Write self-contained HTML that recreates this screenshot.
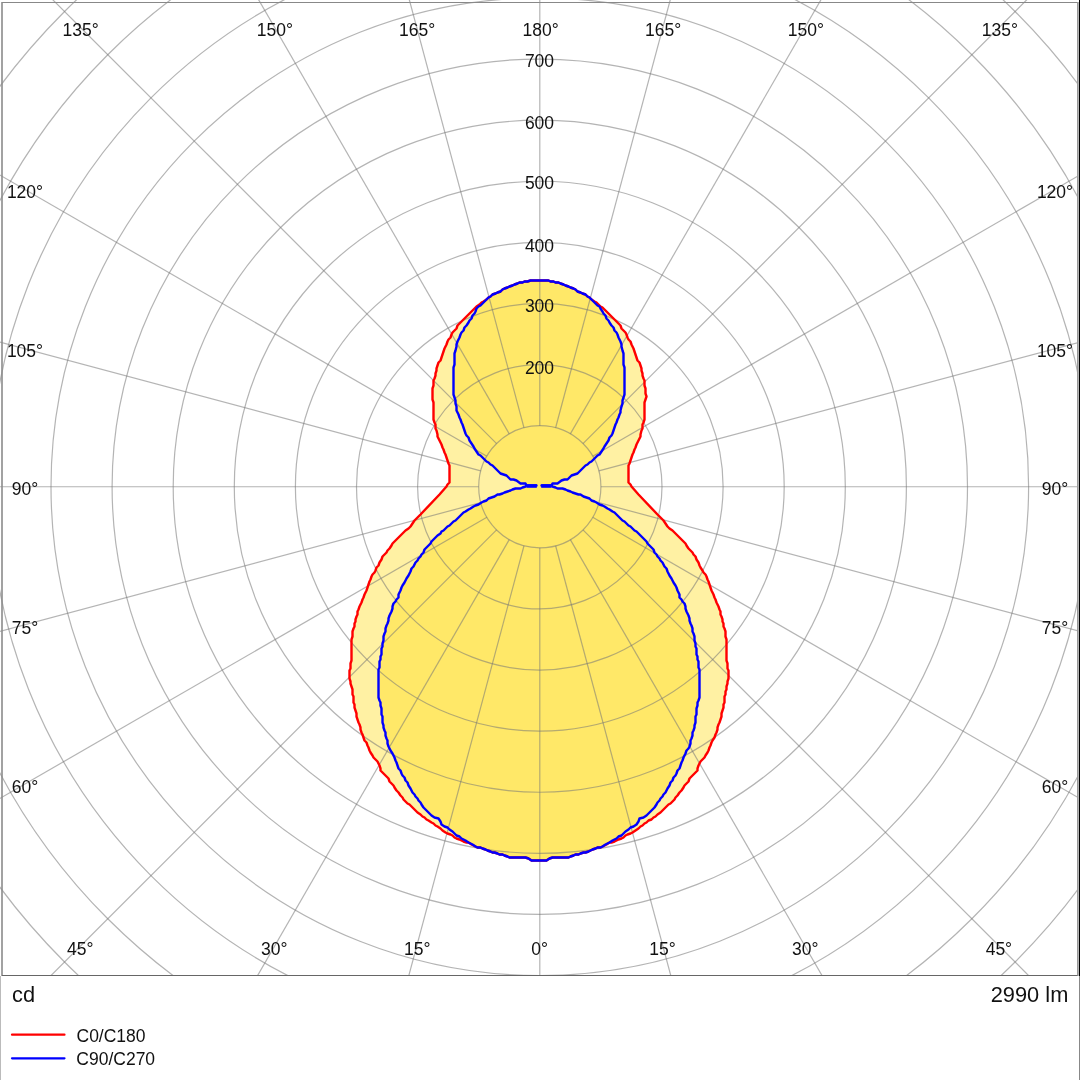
<!DOCTYPE html>
<html><head><meta charset="utf-8">
<style>
html,body{margin:0;padding:0;background:#fff;}
body{width:1080px;height:1080px;overflow:hidden;position:relative;}
svg{position:absolute;left:0;top:0;}
.tl{will-change:transform;}
text{font-family:"Liberation Sans",sans-serif;}
</style></head><body>
<svg width="1080" height="1080" viewBox="0 0 1080 1080">
<defs><clipPath id="pc"><rect x="0" y="0" width="1080" height="975.5"/></clipPath></defs>
<rect x="0" y="0" width="1080" height="1080" fill="#fff"/>
<g clip-path="url(#pc)">
<path d="M538.5,280.5 L535.5,280.5 L532.5,280.5 L530.5,280.5 L527.5,281.5 L524.5,281.5 L522.5,282.5 L519.5,282.5 L517.5,283.5 L514.5,284.5 L512.5,285.5 L509.5,286.5 L507.5,287.5 L504.5,288.5 L502.5,289.5 L500.5,291.5 L497.5,292.5 L495.5,293.5 L492.5,294.5 L490.5,296.5 L488.5,297.5 L486.5,299.5 L483.5,301.5 L481.5,302.5 L479.5,304.5 L476.5,306.5 L475.5,307.5 L473.5,309.5 L471.5,311.5 L469.5,313.5 L467.5,315.5 L465.5,317.5 L463.5,319.5 L461.5,321.5 L459.5,323.5 L457.5,325.5 L456.5,328.5 L454.5,330.5 L452.5,332.5 L451.5,334.5 L450.5,337.5 L448.5,339.5 L447.5,341.5 L446.5,344.5 L445.5,346.5 L444.5,348.5 L443.5,351.5 L442.5,354.5 L441.5,357.5 L440.5,360.5 L438.5,362.5 L437.5,365.5 L436.5,368.5 L436.5,370.5 L435.5,373.5 L435.5,375.5 L434.5,378.5 L433.5,380.5 L433.5,383.5 L433.5,385.5 L432.5,388.5 L432.5,391.5 L432.5,393.5 L432.5,396.5 L432.5,399.5 L433.5,402.5 L433.5,405.5 L433.5,408.5 L433.5,411.5 L433.5,413.5 L433.5,416.5 L433.5,419.5 L434.5,422.5 L435.5,424.5 L435.5,428.5 L436.5,430.5 L437.5,434.5 L437.5,436.5 L439.5,440.5 L440.5,442.5 L441.5,444.5 L442.5,447.5 L443.5,449.5 L444.5,452.5 L445.5,454.5 L446.5,457.5 L447.5,460.5 L448.5,463.5 L449.5,465.5 L449.5,468.5 L449.5,471.5 L449.5,474.5 L449.5,476.5 L449.5,479.5 L449.5,482.5 L447.5,484.5 L446.5,486.5 L439.5,494.5 L420.5,514.5 L418.5,516.5 L416.5,518.5 L414.5,520.5 L412.5,523.5 L410.5,526.5 L408.5,528.5 L405.5,530.5 L403.5,532.5 L401.5,534.5 L399.5,536.5 L396.5,539.5 L394.5,541.5 L392.5,543.5 L391.5,545.5 L389.5,548.5 L387.5,550.5 L386.5,552.5 L384.5,554.5 L382.5,556.5 L381.5,559.5 L379.5,562.5 L378.5,565.5 L376.5,567.5 L375.5,570.5 L374.5,572.5 L372.5,574.5 L371.5,576.5 L370.5,579.5 L369.5,581.5 L368.5,584.5 L367.5,587.5 L366.5,590.5 L365.5,592.5 L364.5,594.5 L363.5,597.5 L362.5,599.5 L361.5,602.5 L360.5,604.5 L359.5,606.5 L358.5,609.5 L357.5,611.5 L357.5,614.5 L356.5,616.5 L355.5,619.5 L355.5,621.5 L354.5,623.5 L354.5,626.5 L353.5,628.5 L352.5,631.5 L352.5,634.5 L352.5,636.5 L351.5,639.5 L351.5,641.5 L351.5,644.5 L351.5,647.5 L351.5,649.5 L351.5,652.5 L351.5,655.5 L351.5,657.5 L351.5,660.5 L350.5,663.5 L350.5,665.5 L350.5,668.5 L349.5,670.5 L349.5,673.5 L349.5,676.5 L349.5,678.5 L350.5,681.5 L350.5,683.5 L351.5,686.5 L352.5,689.5 L352.5,691.5 L352.5,694.5 L353.5,696.5 L353.5,699.5 L353.5,702.5 L354.5,704.5 L354.5,707.5 L355.5,710.5 L356.5,713.5 L356.5,716.5 L357.5,719.5 L358.5,722.5 L359.5,724.5 L360.5,727.5 L360.5,729.5 L361.5,732.5 L362.5,734.5 L363.5,737.5 L364.5,740.5 L366.5,742.5 L367.5,745.5 L368.5,747.5 L369.5,750.5 L370.5,752.5 L372.5,755.5 L373.5,757.5 L375.5,759.5 L377.5,761.5 L378.5,763.5 L379.5,765.5 L380.5,768.5 L380.5,770.5 L382.5,772.5 L384.5,774.5 L386.5,776.5 L388.5,778.5 L389.5,781.5 L391.5,783.5 L393.5,785.5 L394.5,787.5 L396.5,790.5 L398.5,792.5 L400.5,795.5 L402.5,797.5 L403.5,799.5 L405.5,801.5 L407.5,803.5 L409.5,804.5 L411.5,806.5 L413.5,808.5 L415.5,810.5 L417.5,812.5 L420.5,814.5 L422.5,816.5 L424.5,817.5 L426.5,819.5 L428.5,820.5 L431.5,822.5 L433.5,823.5 L435.5,825.5 L437.5,826.5 L440.5,828.5 L442.5,830.5 L445.5,832.5 L447.5,833.5 L450.5,834.5 L452.5,835.5 L454.5,837.5 L456.5,838.5 L459.5,839.5 L461.5,840.5 L463.5,841.5 L466.5,842.5 L468.5,842.5 L471.5,844.5 L475.5,846.5 L477.5,847.5 L480.5,847.5 L482.5,848.5 L485.5,849.5 L487.5,850.5 L490.5,851.5 L492.5,852.5 L494.5,852.5 L497.5,853.5 L499.5,854.5 L502.5,854.5 L504.5,855.5 L507.5,856.5 L509.5,857.5 L511.5,857.5 L514.5,857.5 L517.5,857.5 L519.5,857.5 L522.5,857.5 L525.5,857.5 L528.5,858.5 L531.5,860.5 L535.5,860.5 L538.5,860.5 L542.5,860.5 L546.5,860.5 L549.5,858.5 L552.5,857.5 L555.5,857.5 L558.5,857.5 L560.5,857.5 L563.5,857.5 L566.5,857.5 L568.5,857.5 L570.5,856.5 L573.5,855.5 L575.5,854.5 L578.5,854.5 L580.5,853.5 L583.5,852.5 L585.5,852.5 L588.5,851.5 L590.5,850.5 L592.5,849.5 L595.5,848.5 L597.5,847.5 L600.5,847.5 L602.5,846.5 L606.5,844.5 L609.5,842.5 L611.5,842.5 L614.5,841.5 L616.5,840.5 L618.5,839.5 L621.5,838.5 L623.5,837.5 L625.5,835.5 L627.5,834.5 L630.5,833.5 L632.5,832.5 L635.5,830.5 L638.5,828.5 L640.5,826.5 L642.5,825.5 L644.5,823.5 L646.5,822.5 L648.5,820.5 L651.5,819.5 L653.5,817.5 L655.5,816.5 L657.5,814.5 L660.5,812.5 L662.5,810.5 L664.5,808.5 L666.5,806.5 L668.5,804.5 L670.5,803.5 L672.5,801.5 L674.5,799.5 L675.5,797.5 L677.5,795.5 L679.5,792.5 L681.5,790.5 L683.5,787.5 L684.5,785.5 L686.5,783.5 L688.5,781.5 L689.5,778.5 L691.5,776.5 L693.5,774.5 L695.5,772.5 L697.5,770.5 L697.5,768.5 L698.5,765.5 L699.5,763.5 L700.5,761.5 L702.5,759.5 L704.5,757.5 L705.5,755.5 L707.5,752.5 L708.5,750.5 L709.5,747.5 L710.5,745.5 L711.5,742.5 L712.5,740.5 L714.5,737.5 L715.5,734.5 L716.5,732.5 L717.5,729.5 L717.5,727.5 L718.5,724.5 L719.5,722.5 L720.5,719.5 L721.5,716.5 L721.5,713.5 L722.5,710.5 L723.5,707.5 L723.5,704.5 L724.5,702.5 L724.5,699.5 L724.5,696.5 L725.5,694.5 L725.5,691.5 L726.5,689.5 L726.5,686.5 L727.5,683.5 L727.5,681.5 L728.5,678.5 L728.5,676.5 L728.5,673.5 L728.5,670.5 L727.5,668.5 L727.5,665.5 L727.5,663.5 L726.5,660.5 L726.5,657.5 L726.5,655.5 L726.5,652.5 L726.5,649.5 L726.5,647.5 L726.5,644.5 L726.5,641.5 L726.5,639.5 L725.5,636.5 L725.5,634.5 L725.5,631.5 L724.5,628.5 L723.5,626.5 L723.5,623.5 L722.5,621.5 L722.5,619.5 L721.5,616.5 L720.5,614.5 L720.5,611.5 L719.5,609.5 L718.5,606.5 L717.5,604.5 L716.5,602.5 L715.5,599.5 L714.5,597.5 L713.5,594.5 L712.5,592.5 L711.5,590.5 L710.5,587.5 L709.5,584.5 L708.5,581.5 L707.5,579.5 L706.5,576.5 L705.5,574.5 L703.5,572.5 L702.5,570.5 L700.5,567.5 L699.5,565.5 L698.5,562.5 L696.5,559.5 L695.5,556.5 L693.5,554.5 L692.5,552.5 L690.5,550.5 L688.5,548.5 L686.5,545.5 L685.5,543.5 L683.5,541.5 L681.5,539.5 L678.5,536.5 L676.5,534.5 L674.5,532.5 L672.5,530.5 L669.5,528.5 L667.5,526.5 L665.5,523.5 L663.5,520.5 L661.5,518.5 L659.5,516.5 L657.5,514.5 L638.5,494.5 L631.5,486.5 L630.5,484.5 L628.5,482.5 L628.5,479.5 L628.5,476.5 L628.5,474.5 L628.5,471.5 L628.5,468.5 L628.5,465.5 L629.5,463.5 L630.5,460.5 L631.5,457.5 L632.5,454.5 L633.5,452.5 L634.5,449.5 L635.5,447.5 L636.5,444.5 L637.5,442.5 L638.5,440.5 L640.5,436.5 L640.5,434.5 L641.5,430.5 L642.5,428.5 L642.5,424.5 L643.5,422.5 L644.5,419.5 L644.5,416.5 L644.5,413.5 L644.5,411.5 L644.5,408.5 L644.5,405.5 L644.5,402.5 L645.5,399.5 L646.5,396.5 L645.5,393.5 L645.5,391.5 L645.5,388.5 L644.5,385.5 L644.5,383.5 L644.5,380.5 L643.5,378.5 L642.5,375.5 L642.5,373.5 L641.5,370.5 L641.5,368.5 L640.5,365.5 L639.5,362.5 L637.5,360.5 L636.5,357.5 L635.5,354.5 L634.5,351.5 L633.5,348.5 L632.5,346.5 L631.5,344.5 L630.5,341.5 L628.5,339.5 L627.5,337.5 L626.5,334.5 L625.5,332.5 L623.5,330.5 L621.5,328.5 L620.5,325.5 L618.5,323.5 L616.5,321.5 L614.5,319.5 L612.5,317.5 L610.5,315.5 L608.5,313.5 L606.5,311.5 L604.5,309.5 L602.5,307.5 L600.5,306.5 L598.5,304.5 L596.5,302.5 L594.5,301.5 L591.5,299.5 L589.5,297.5 L587.5,296.5 L585.5,294.5 L582.5,293.5 L580.5,292.5 L577.5,291.5 L575.5,289.5 L573.5,288.5 L570.5,287.5 L568.5,286.5 L565.5,285.5 L563.5,284.5 L560.5,283.5 L558.5,282.5 L555.5,282.5 L553.5,281.5 L550.5,281.5 L548.5,280.5 L545.5,280.5 L542.5,280.5 Z" fill="#fff1a3" stroke="none"/>
<path d="M538.5,280.5 L535.5,280.5 L532.5,280.5 L530.5,280.5 L527.5,281.5 L524.5,281.5 L522.5,282.5 L519.5,282.5 L517.5,283.5 L514.5,284.5 L512.5,285.5 L509.5,286.5 L507.5,287.5 L504.5,288.5 L502.5,289.5 L500.5,291.5 L497.5,292.5 L495.5,293.5 L492.5,294.5 L490.5,296.5 L488.5,297.5 L486.5,299.5 L484.5,301.5 L482.5,303.5 L480.5,305.5 L478.5,306.5 L476.5,308.5 L475.5,311.5 L474.5,313.5 L472.5,315.5 L471.5,318.5 L469.5,320.5 L468.5,322.5 L466.5,325.5 L464.5,327.5 L463.5,330.5 L461.5,332.5 L460.5,334.5 L459.5,337.5 L458.5,339.5 L457.5,341.5 L456.5,344.5 L456.5,346.5 L455.5,350.5 L454.5,353.5 L454.5,356.5 L454.5,359.5 L454.5,361.5 L454.5,364.5 L453.5,367.5 L453.5,369.5 L453.5,372.5 L453.5,375.5 L453.5,377.5 L453.5,380.5 L453.5,383.5 L453.5,386.5 L453.5,388.5 L453.5,391.5 L453.5,394.5 L454.5,397.5 L455.5,400.5 L455.5,403.5 L456.5,406.5 L456.5,410.5 L457.5,412.5 L458.5,414.5 L459.5,417.5 L460.5,419.5 L461.5,422.5 L462.5,424.5 L463.5,427.5 L464.5,430.5 L465.5,433.5 L466.5,435.5 L468.5,437.5 L469.5,440.5 L471.5,443.5 L473.5,446.5 L474.5,448.5 L476.5,451.5 L478.5,454.5 L480.5,455.5 L482.5,457.5 L484.5,459.5 L486.5,461.5 L488.5,462.5 L490.5,464.5 L492.5,465.5 L494.5,467.5 L496.5,469.5 L498.5,471.5 L500.5,473.5 L503.5,474.5 L506.5,475.5 L508.5,477.5 L510.5,479.5 L513.5,479.5 L516.5,480.5 L520.5,483.5 L525.5,483.5 L526.5,485.5 L528.5,485.5 L531.5,485.5 L534.5,485.5 L536.5,485.5 L534.5,485.5 L531.5,485.5 L528.5,485.5 L526.5,485.5 L525.5,486.5 L522.5,487.5 L520.5,488.5 L517.5,488.5 L515.5,488.5 L512.5,489.5 L510.5,490.5 L507.5,491.5 L504.5,492.5 L502.5,493.5 L499.5,494.5 L497.5,494.5 L494.5,496.5 L491.5,497.5 L488.5,498.5 L486.5,500.5 L483.5,501.5 L481.5,502.5 L478.5,504.5 L475.5,505.5 L473.5,506.5 L470.5,508.5 L468.5,509.5 L465.5,511.5 L463.5,512.5 L461.5,514.5 L459.5,516.5 L457.5,518.5 L455.5,520.5 L453.5,521.5 L451.5,523.5 L449.5,525.5 L447.5,526.5 L445.5,528.5 L443.5,530.5 L441.5,531.5 L440.5,533.5 L437.5,535.5 L435.5,537.5 L433.5,539.5 L431.5,541.5 L430.5,543.5 L428.5,545.5 L426.5,547.5 L424.5,549.5 L423.5,552.5 L421.5,554.5 L420.5,556.5 L418.5,558.5 L417.5,560.5 L415.5,562.5 L414.5,564.5 L413.5,566.5 L411.5,568.5 L410.5,571.5 L409.5,573.5 L408.5,575.5 L406.5,578.5 L405.5,580.5 L404.5,582.5 L402.5,585.5 L401.5,587.5 L400.5,590.5 L399.5,592.5 L398.5,594.5 L398.5,597.5 L396.5,599.5 L395.5,601.5 L393.5,603.5 L392.5,606.5 L392.5,608.5 L391.5,611.5 L390.5,613.5 L389.5,615.5 L388.5,618.5 L388.5,620.5 L387.5,623.5 L386.5,625.5 L385.5,628.5 L385.5,631.5 L384.5,633.5 L383.5,636.5 L383.5,640.5 L382.5,643.5 L382.5,646.5 L381.5,648.5 L381.5,651.5 L381.5,654.5 L380.5,656.5 L380.5,659.5 L379.5,661.5 L379.5,664.5 L379.5,667.5 L378.5,669.5 L378.5,672.5 L378.5,674.5 L378.5,677.5 L378.5,679.5 L378.5,682.5 L378.5,684.5 L378.5,687.5 L378.5,690.5 L378.5,693.5 L378.5,697.5 L379.5,700.5 L380.5,702.5 L380.5,705.5 L381.5,708.5 L381.5,711.5 L381.5,714.5 L382.5,716.5 L382.5,719.5 L382.5,722.5 L383.5,725.5 L383.5,727.5 L384.5,730.5 L385.5,732.5 L385.5,735.5 L386.5,738.5 L387.5,740.5 L387.5,743.5 L388.5,746.5 L389.5,748.5 L390.5,750.5 L392.5,753.5 L393.5,755.5 L394.5,757.5 L395.5,760.5 L396.5,762.5 L397.5,765.5 L398.5,768.5 L400.5,770.5 L401.5,773.5 L402.5,775.5 L404.5,777.5 L405.5,780.5 L407.5,782.5 L408.5,785.5 L410.5,788.5 L411.5,790.5 L412.5,792.5 L414.5,794.5 L415.5,796.5 L417.5,798.5 L418.5,800.5 L420.5,802.5 L421.5,804.5 L423.5,807.5 L425.5,809.5 L427.5,811.5 L429.5,813.5 L431.5,815.5 L434.5,817.5 L438.5,818.5 L440.5,821.5 L441.5,824.5 L444.5,826.5 L447.5,827.5 L449.5,829.5 L452.5,831.5 L454.5,833.5 L456.5,835.5 L459.5,836.5 L461.5,838.5 L463.5,839.5 L465.5,840.5 L468.5,842.5 L470.5,843.5 L472.5,844.5 L475.5,846.5 L477.5,847.5 L480.5,847.5 L482.5,848.5 L485.5,849.5 L487.5,850.5 L490.5,851.5 L492.5,852.5 L494.5,852.5 L497.5,853.5 L499.5,854.5 L502.5,854.5 L504.5,855.5 L507.5,856.5 L509.5,857.5 L511.5,857.5 L514.5,857.5 L517.5,857.5 L519.5,857.5 L522.5,857.5 L525.5,857.5 L528.5,858.5 L531.5,860.5 L535.5,860.5 L538.5,860.5 L542.5,860.5 L546.5,860.5 L549.5,858.5 L552.5,857.5 L555.5,857.5 L558.5,857.5 L560.5,857.5 L563.5,857.5 L566.5,857.5 L568.5,857.5 L570.5,856.5 L573.5,855.5 L575.5,854.5 L578.5,854.5 L580.5,853.5 L583.5,852.5 L585.5,852.5 L588.5,851.5 L590.5,850.5 L592.5,849.5 L595.5,848.5 L597.5,847.5 L600.5,847.5 L602.5,846.5 L605.5,844.5 L607.5,843.5 L609.5,842.5 L612.5,840.5 L614.5,839.5 L616.5,838.5 L618.5,836.5 L621.5,835.5 L623.5,833.5 L625.5,831.5 L628.5,829.5 L630.5,827.5 L633.5,826.5 L636.5,824.5 L638.5,821.5 L639.5,818.5 L643.5,817.5 L646.5,815.5 L648.5,813.5 L650.5,811.5 L652.5,809.5 L654.5,807.5 L656.5,804.5 L657.5,802.5 L659.5,800.5 L660.5,798.5 L662.5,796.5 L663.5,794.5 L665.5,792.5 L666.5,790.5 L667.5,788.5 L669.5,785.5 L670.5,782.5 L672.5,780.5 L673.5,777.5 L675.5,775.5 L676.5,773.5 L677.5,770.5 L679.5,768.5 L680.5,765.5 L681.5,762.5 L682.5,760.5 L683.5,757.5 L684.5,755.5 L685.5,753.5 L686.5,750.5 L688.5,748.5 L689.5,746.5 L690.5,743.5 L690.5,740.5 L691.5,738.5 L692.5,735.5 L692.5,732.5 L693.5,730.5 L694.5,727.5 L694.5,725.5 L695.5,722.5 L695.5,719.5 L695.5,716.5 L696.5,714.5 L696.5,711.5 L696.5,708.5 L697.5,705.5 L697.5,702.5 L698.5,700.5 L699.5,697.5 L699.5,693.5 L699.5,690.5 L699.5,687.5 L699.5,684.5 L699.5,682.5 L699.5,679.5 L699.5,677.5 L699.5,674.5 L699.5,672.5 L699.5,669.5 L698.5,667.5 L698.5,664.5 L698.5,661.5 L697.5,659.5 L697.5,656.5 L696.5,654.5 L696.5,651.5 L696.5,648.5 L695.5,646.5 L695.5,643.5 L694.5,640.5 L694.5,636.5 L693.5,633.5 L692.5,631.5 L692.5,628.5 L691.5,625.5 L690.5,623.5 L689.5,620.5 L689.5,618.5 L688.5,615.5 L687.5,613.5 L686.5,611.5 L685.5,608.5 L685.5,606.5 L684.5,603.5 L682.5,601.5 L681.5,599.5 L679.5,597.5 L679.5,594.5 L678.5,592.5 L677.5,590.5 L676.5,587.5 L675.5,585.5 L673.5,582.5 L672.5,580.5 L671.5,578.5 L669.5,575.5 L668.5,573.5 L667.5,571.5 L666.5,568.5 L664.5,566.5 L663.5,564.5 L662.5,562.5 L660.5,560.5 L659.5,558.5 L657.5,556.5 L656.5,554.5 L654.5,552.5 L653.5,549.5 L651.5,547.5 L649.5,545.5 L647.5,543.5 L646.5,541.5 L644.5,539.5 L642.5,537.5 L640.5,535.5 L638.5,533.5 L636.5,531.5 L634.5,530.5 L632.5,528.5 L630.5,526.5 L628.5,525.5 L626.5,523.5 L624.5,521.5 L622.5,520.5 L620.5,518.5 L618.5,516.5 L616.5,514.5 L614.5,512.5 L612.5,511.5 L609.5,509.5 L607.5,508.5 L604.5,506.5 L602.5,505.5 L599.5,504.5 L596.5,502.5 L594.5,501.5 L591.5,500.5 L589.5,498.5 L586.5,497.5 L583.5,496.5 L580.5,494.5 L578.5,494.5 L575.5,493.5 L572.5,492.5 L570.5,491.5 L567.5,490.5 L565.5,489.5 L562.5,488.5 L560.5,488.5 L557.5,488.5 L555.5,487.5 L552.5,486.5 L551.5,485.5 L548.5,485.5 L546.5,485.5 L543.5,485.5 L541.5,485.5 L543.5,485.5 L546.5,485.5 L548.5,485.5 L551.5,485.5 L552.5,483.5 L557.5,483.5 L561.5,480.5 L564.5,479.5 L567.5,479.5 L569.5,477.5 L571.5,475.5 L574.5,474.5 L577.5,473.5 L579.5,471.5 L581.5,469.5 L583.5,467.5 L585.5,465.5 L587.5,464.5 L589.5,462.5 L591.5,461.5 L593.5,459.5 L595.5,457.5 L597.5,455.5 L599.5,454.5 L601.5,451.5 L603.5,448.5 L604.5,446.5 L606.5,443.5 L608.5,440.5 L609.5,437.5 L611.5,435.5 L612.5,433.5 L613.5,430.5 L614.5,427.5 L615.5,424.5 L616.5,422.5 L617.5,419.5 L618.5,417.5 L619.5,414.5 L620.5,412.5 L620.5,410.5 L621.5,406.5 L622.5,403.5 L622.5,400.5 L623.5,397.5 L624.5,394.5 L624.5,391.5 L624.5,388.5 L624.5,386.5 L624.5,383.5 L624.5,380.5 L624.5,377.5 L624.5,375.5 L624.5,372.5 L624.5,369.5 L624.5,367.5 L623.5,364.5 L623.5,361.5 L623.5,359.5 L623.5,356.5 L623.5,353.5 L622.5,350.5 L621.5,346.5 L621.5,344.5 L620.5,341.5 L619.5,339.5 L618.5,337.5 L617.5,334.5 L616.5,332.5 L614.5,330.5 L613.5,327.5 L611.5,325.5 L609.5,322.5 L608.5,320.5 L606.5,318.5 L605.5,315.5 L603.5,313.5 L602.5,311.5 L600.5,308.5 L599.5,306.5 L597.5,305.5 L595.5,303.5 L593.5,301.5 L591.5,299.5 L589.5,297.5 L587.5,296.5 L585.5,294.5 L582.5,293.5 L580.5,292.5 L577.5,291.5 L575.5,289.5 L573.5,288.5 L570.5,287.5 L568.5,286.5 L565.5,285.5 L563.5,284.5 L560.5,283.5 L558.5,282.5 L555.5,282.5 L553.5,281.5 L550.5,281.5 L548.5,280.5 L545.5,280.5 L542.5,280.5 Z" fill="#ffe868" stroke="none"/>
<g fill="none" stroke="#777" stroke-opacity="0.55" stroke-width="1.2">
<circle cx="539.8" cy="486.75" r="61.1"/>
<circle cx="539.8" cy="486.75" r="122.2"/>
<circle cx="539.8" cy="486.75" r="183.3"/>
<circle cx="539.8" cy="486.75" r="244.4"/>
<circle cx="539.8" cy="486.75" r="305.5"/>
<circle cx="539.8" cy="486.75" r="366.6"/>
<circle cx="539.8" cy="486.75" r="427.7"/>
<circle cx="539.8" cy="486.75" r="488.8"/>
<circle cx="539.8" cy="486.75" r="549.9"/>
<circle cx="539.8" cy="486.75" r="611"/>
<circle cx="539.8" cy="486.75" r="672.1"/>
<circle cx="539.8" cy="486.75" r="733.2"/>
<line x1="539.8" y1="547.85" x2="539.8" y2="1986.75"/>
<line x1="555.61" y1="545.77" x2="928.03" y2="1935.64"/>
<line x1="570.35" y1="539.66" x2="1289.8" y2="1785.79"/>
<line x1="583" y1="529.95" x2="1600.46" y2="1547.41"/>
<line x1="592.71" y1="517.3" x2="1838.84" y2="1236.75"/>
<line x1="598.82" y1="502.56" x2="1988.69" y2="874.98"/>
<line x1="600.9" y1="486.75" x2="2039.8" y2="486.75"/>
<line x1="598.82" y1="470.94" x2="1988.69" y2="98.52"/>
<line x1="592.71" y1="456.2" x2="1838.84" y2="-263.25"/>
<line x1="583" y1="443.55" x2="1600.46" y2="-573.91"/>
<line x1="570.35" y1="433.84" x2="1289.8" y2="-812.29"/>
<line x1="555.61" y1="427.73" x2="928.03" y2="-962.14"/>
<line x1="539.8" y1="425.65" x2="539.8" y2="-1013.25"/>
<line x1="523.99" y1="427.73" x2="151.57" y2="-962.14"/>
<line x1="509.25" y1="433.84" x2="-210.2" y2="-812.29"/>
<line x1="496.6" y1="443.55" x2="-520.86" y2="-573.91"/>
<line x1="486.89" y1="456.2" x2="-759.24" y2="-263.25"/>
<line x1="480.78" y1="470.94" x2="-909.09" y2="98.52"/>
<line x1="478.7" y1="486.75" x2="-960.2" y2="486.75"/>
<line x1="480.78" y1="502.56" x2="-909.09" y2="874.98"/>
<line x1="486.89" y1="517.3" x2="-759.24" y2="1236.75"/>
<line x1="496.6" y1="529.95" x2="-520.86" y2="1547.41"/>
<line x1="509.25" y1="539.66" x2="-210.2" y2="1785.79"/>
<line x1="523.99" y1="545.77" x2="151.57" y2="1935.64"/>
</g>
<path d="M538.5,280.5 L535.5,280.5 L532.5,280.5 L530.5,280.5 L527.5,281.5 L524.5,281.5 L522.5,282.5 L519.5,282.5 L517.5,283.5 L514.5,284.5 L512.5,285.5 L509.5,286.5 L507.5,287.5 L504.5,288.5 L502.5,289.5 L500.5,291.5 L497.5,292.5 L495.5,293.5 L492.5,294.5 L490.5,296.5 L488.5,297.5 L486.5,299.5 L483.5,301.5 L481.5,302.5 L479.5,304.5 L476.5,306.5 L475.5,307.5 L473.5,309.5 L471.5,311.5 L469.5,313.5 L467.5,315.5 L465.5,317.5 L463.5,319.5 L461.5,321.5 L459.5,323.5 L457.5,325.5 L456.5,328.5 L454.5,330.5 L452.5,332.5 L451.5,334.5 L450.5,337.5 L448.5,339.5 L447.5,341.5 L446.5,344.5 L445.5,346.5 L444.5,348.5 L443.5,351.5 L442.5,354.5 L441.5,357.5 L440.5,360.5 L438.5,362.5 L437.5,365.5 L436.5,368.5 L436.5,370.5 L435.5,373.5 L435.5,375.5 L434.5,378.5 L433.5,380.5 L433.5,383.5 L433.5,385.5 L432.5,388.5 L432.5,391.5 L432.5,393.5 L432.5,396.5 L432.5,399.5 L433.5,402.5 L433.5,405.5 L433.5,408.5 L433.5,411.5 L433.5,413.5 L433.5,416.5 L433.5,419.5 L434.5,422.5 L435.5,424.5 L435.5,428.5 L436.5,430.5 L437.5,434.5 L437.5,436.5 L439.5,440.5 L440.5,442.5 L441.5,444.5 L442.5,447.5 L443.5,449.5 L444.5,452.5 L445.5,454.5 L446.5,457.5 L447.5,460.5 L448.5,463.5 L449.5,465.5 L449.5,468.5 L449.5,471.5 L449.5,474.5 L449.5,476.5 L449.5,479.5 L449.5,482.5 L447.5,484.5 L446.5,486.5 L439.5,494.5 L420.5,514.5 L418.5,516.5 L416.5,518.5 L414.5,520.5 L412.5,523.5 L410.5,526.5 L408.5,528.5 L405.5,530.5 L403.5,532.5 L401.5,534.5 L399.5,536.5 L396.5,539.5 L394.5,541.5 L392.5,543.5 L391.5,545.5 L389.5,548.5 L387.5,550.5 L386.5,552.5 L384.5,554.5 L382.5,556.5 L381.5,559.5 L379.5,562.5 L378.5,565.5 L376.5,567.5 L375.5,570.5 L374.5,572.5 L372.5,574.5 L371.5,576.5 L370.5,579.5 L369.5,581.5 L368.5,584.5 L367.5,587.5 L366.5,590.5 L365.5,592.5 L364.5,594.5 L363.5,597.5 L362.5,599.5 L361.5,602.5 L360.5,604.5 L359.5,606.5 L358.5,609.5 L357.5,611.5 L357.5,614.5 L356.5,616.5 L355.5,619.5 L355.5,621.5 L354.5,623.5 L354.5,626.5 L353.5,628.5 L352.5,631.5 L352.5,634.5 L352.5,636.5 L351.5,639.5 L351.5,641.5 L351.5,644.5 L351.5,647.5 L351.5,649.5 L351.5,652.5 L351.5,655.5 L351.5,657.5 L351.5,660.5 L350.5,663.5 L350.5,665.5 L350.5,668.5 L349.5,670.5 L349.5,673.5 L349.5,676.5 L349.5,678.5 L350.5,681.5 L350.5,683.5 L351.5,686.5 L352.5,689.5 L352.5,691.5 L352.5,694.5 L353.5,696.5 L353.5,699.5 L353.5,702.5 L354.5,704.5 L354.5,707.5 L355.5,710.5 L356.5,713.5 L356.5,716.5 L357.5,719.5 L358.5,722.5 L359.5,724.5 L360.5,727.5 L360.5,729.5 L361.5,732.5 L362.5,734.5 L363.5,737.5 L364.5,740.5 L366.5,742.5 L367.5,745.5 L368.5,747.5 L369.5,750.5 L370.5,752.5 L372.5,755.5 L373.5,757.5 L375.5,759.5 L377.5,761.5 L378.5,763.5 L379.5,765.5 L380.5,768.5 L380.5,770.5 L382.5,772.5 L384.5,774.5 L386.5,776.5 L388.5,778.5 L389.5,781.5 L391.5,783.5 L393.5,785.5 L394.5,787.5 L396.5,790.5 L398.5,792.5 L400.5,795.5 L402.5,797.5 L403.5,799.5 L405.5,801.5 L407.5,803.5 L409.5,804.5 L411.5,806.5 L413.5,808.5 L415.5,810.5 L417.5,812.5 L420.5,814.5 L422.5,816.5 L424.5,817.5 L426.5,819.5 L428.5,820.5 L431.5,822.5 L433.5,823.5 L435.5,825.5 L437.5,826.5 L440.5,828.5 L442.5,830.5 L445.5,832.5 L447.5,833.5 L450.5,834.5 L452.5,835.5 L454.5,837.5 L456.5,838.5 L459.5,839.5 L461.5,840.5 L463.5,841.5 L466.5,842.5 L468.5,842.5 L471.5,844.5 L475.5,846.5 L477.5,847.5 L480.5,847.5 L482.5,848.5 L485.5,849.5 L487.5,850.5 L490.5,851.5 L492.5,852.5 L494.5,852.5 L497.5,853.5 L499.5,854.5 L502.5,854.5 L504.5,855.5 L507.5,856.5 L509.5,857.5 L511.5,857.5 L514.5,857.5 L517.5,857.5 L519.5,857.5 L522.5,857.5 L525.5,857.5 L528.5,858.5 L531.5,860.5 L535.5,860.5 L538.5,860.5 L542.5,860.5 L546.5,860.5 L549.5,858.5 L552.5,857.5 L555.5,857.5 L558.5,857.5 L560.5,857.5 L563.5,857.5 L566.5,857.5 L568.5,857.5 L570.5,856.5 L573.5,855.5 L575.5,854.5 L578.5,854.5 L580.5,853.5 L583.5,852.5 L585.5,852.5 L588.5,851.5 L590.5,850.5 L592.5,849.5 L595.5,848.5 L597.5,847.5 L600.5,847.5 L602.5,846.5 L606.5,844.5 L609.5,842.5 L611.5,842.5 L614.5,841.5 L616.5,840.5 L618.5,839.5 L621.5,838.5 L623.5,837.5 L625.5,835.5 L627.5,834.5 L630.5,833.5 L632.5,832.5 L635.5,830.5 L638.5,828.5 L640.5,826.5 L642.5,825.5 L644.5,823.5 L646.5,822.5 L648.5,820.5 L651.5,819.5 L653.5,817.5 L655.5,816.5 L657.5,814.5 L660.5,812.5 L662.5,810.5 L664.5,808.5 L666.5,806.5 L668.5,804.5 L670.5,803.5 L672.5,801.5 L674.5,799.5 L675.5,797.5 L677.5,795.5 L679.5,792.5 L681.5,790.5 L683.5,787.5 L684.5,785.5 L686.5,783.5 L688.5,781.5 L689.5,778.5 L691.5,776.5 L693.5,774.5 L695.5,772.5 L697.5,770.5 L697.5,768.5 L698.5,765.5 L699.5,763.5 L700.5,761.5 L702.5,759.5 L704.5,757.5 L705.5,755.5 L707.5,752.5 L708.5,750.5 L709.5,747.5 L710.5,745.5 L711.5,742.5 L712.5,740.5 L714.5,737.5 L715.5,734.5 L716.5,732.5 L717.5,729.5 L717.5,727.5 L718.5,724.5 L719.5,722.5 L720.5,719.5 L721.5,716.5 L721.5,713.5 L722.5,710.5 L723.5,707.5 L723.5,704.5 L724.5,702.5 L724.5,699.5 L724.5,696.5 L725.5,694.5 L725.5,691.5 L726.5,689.5 L726.5,686.5 L727.5,683.5 L727.5,681.5 L728.5,678.5 L728.5,676.5 L728.5,673.5 L728.5,670.5 L727.5,668.5 L727.5,665.5 L727.5,663.5 L726.5,660.5 L726.5,657.5 L726.5,655.5 L726.5,652.5 L726.5,649.5 L726.5,647.5 L726.5,644.5 L726.5,641.5 L726.5,639.5 L725.5,636.5 L725.5,634.5 L725.5,631.5 L724.5,628.5 L723.5,626.5 L723.5,623.5 L722.5,621.5 L722.5,619.5 L721.5,616.5 L720.5,614.5 L720.5,611.5 L719.5,609.5 L718.5,606.5 L717.5,604.5 L716.5,602.5 L715.5,599.5 L714.5,597.5 L713.5,594.5 L712.5,592.5 L711.5,590.5 L710.5,587.5 L709.5,584.5 L708.5,581.5 L707.5,579.5 L706.5,576.5 L705.5,574.5 L703.5,572.5 L702.5,570.5 L700.5,567.5 L699.5,565.5 L698.5,562.5 L696.5,559.5 L695.5,556.5 L693.5,554.5 L692.5,552.5 L690.5,550.5 L688.5,548.5 L686.5,545.5 L685.5,543.5 L683.5,541.5 L681.5,539.5 L678.5,536.5 L676.5,534.5 L674.5,532.5 L672.5,530.5 L669.5,528.5 L667.5,526.5 L665.5,523.5 L663.5,520.5 L661.5,518.5 L659.5,516.5 L657.5,514.5 L638.5,494.5 L631.5,486.5 L630.5,484.5 L628.5,482.5 L628.5,479.5 L628.5,476.5 L628.5,474.5 L628.5,471.5 L628.5,468.5 L628.5,465.5 L629.5,463.5 L630.5,460.5 L631.5,457.5 L632.5,454.5 L633.5,452.5 L634.5,449.5 L635.5,447.5 L636.5,444.5 L637.5,442.5 L638.5,440.5 L640.5,436.5 L640.5,434.5 L641.5,430.5 L642.5,428.5 L642.5,424.5 L643.5,422.5 L644.5,419.5 L644.5,416.5 L644.5,413.5 L644.5,411.5 L644.5,408.5 L644.5,405.5 L644.5,402.5 L645.5,399.5 L646.5,396.5 L645.5,393.5 L645.5,391.5 L645.5,388.5 L644.5,385.5 L644.5,383.5 L644.5,380.5 L643.5,378.5 L642.5,375.5 L642.5,373.5 L641.5,370.5 L641.5,368.5 L640.5,365.5 L639.5,362.5 L637.5,360.5 L636.5,357.5 L635.5,354.5 L634.5,351.5 L633.5,348.5 L632.5,346.5 L631.5,344.5 L630.5,341.5 L628.5,339.5 L627.5,337.5 L626.5,334.5 L625.5,332.5 L623.5,330.5 L621.5,328.5 L620.5,325.5 L618.5,323.5 L616.5,321.5 L614.5,319.5 L612.5,317.5 L610.5,315.5 L608.5,313.5 L606.5,311.5 L604.5,309.5 L602.5,307.5 L600.5,306.5 L598.5,304.5 L596.5,302.5 L594.5,301.5 L591.5,299.5 L589.5,297.5 L587.5,296.5 L585.5,294.5 L582.5,293.5 L580.5,292.5 L577.5,291.5 L575.5,289.5 L573.5,288.5 L570.5,287.5 L568.5,286.5 L565.5,285.5 L563.5,284.5 L560.5,283.5 L558.5,282.5 L555.5,282.5 L553.5,281.5 L550.5,281.5 L548.5,280.5 L545.5,280.5 L542.5,280.5 Z" fill="none" stroke="#ff0000" stroke-width="2.4" stroke-linejoin="round"/>
<path d="M538.5,280.5 L535.5,280.5 L532.5,280.5 L530.5,280.5 L527.5,281.5 L524.5,281.5 L522.5,282.5 L519.5,282.5 L517.5,283.5 L514.5,284.5 L512.5,285.5 L509.5,286.5 L507.5,287.5 L504.5,288.5 L502.5,289.5 L500.5,291.5 L497.5,292.5 L495.5,293.5 L492.5,294.5 L490.5,296.5 L488.5,297.5 L486.5,299.5 L484.5,301.5 L482.5,303.5 L480.5,305.5 L478.5,306.5 L476.5,308.5 L475.5,311.5 L474.5,313.5 L472.5,315.5 L471.5,318.5 L469.5,320.5 L468.5,322.5 L466.5,325.5 L464.5,327.5 L463.5,330.5 L461.5,332.5 L460.5,334.5 L459.5,337.5 L458.5,339.5 L457.5,341.5 L456.5,344.5 L456.5,346.5 L455.5,350.5 L454.5,353.5 L454.5,356.5 L454.5,359.5 L454.5,361.5 L454.5,364.5 L453.5,367.5 L453.5,369.5 L453.5,372.5 L453.5,375.5 L453.5,377.5 L453.5,380.5 L453.5,383.5 L453.5,386.5 L453.5,388.5 L453.5,391.5 L453.5,394.5 L454.5,397.5 L455.5,400.5 L455.5,403.5 L456.5,406.5 L456.5,410.5 L457.5,412.5 L458.5,414.5 L459.5,417.5 L460.5,419.5 L461.5,422.5 L462.5,424.5 L463.5,427.5 L464.5,430.5 L465.5,433.5 L466.5,435.5 L468.5,437.5 L469.5,440.5 L471.5,443.5 L473.5,446.5 L474.5,448.5 L476.5,451.5 L478.5,454.5 L480.5,455.5 L482.5,457.5 L484.5,459.5 L486.5,461.5 L488.5,462.5 L490.5,464.5 L492.5,465.5 L494.5,467.5 L496.5,469.5 L498.5,471.5 L500.5,473.5 L503.5,474.5 L506.5,475.5 L508.5,477.5 L510.5,479.5 L513.5,479.5 L516.5,480.5 L520.5,483.5 L525.5,483.5 L526.5,485.5 L528.5,485.5 L531.5,485.5 L534.5,485.5 L536.5,485.5 L534.5,485.5 L531.5,485.5 L528.5,485.5 L526.5,485.5 L525.5,486.5 L522.5,487.5 L520.5,488.5 L517.5,488.5 L515.5,488.5 L512.5,489.5 L510.5,490.5 L507.5,491.5 L504.5,492.5 L502.5,493.5 L499.5,494.5 L497.5,494.5 L494.5,496.5 L491.5,497.5 L488.5,498.5 L486.5,500.5 L483.5,501.5 L481.5,502.5 L478.5,504.5 L475.5,505.5 L473.5,506.5 L470.5,508.5 L468.5,509.5 L465.5,511.5 L463.5,512.5 L461.5,514.5 L459.5,516.5 L457.5,518.5 L455.5,520.5 L453.5,521.5 L451.5,523.5 L449.5,525.5 L447.5,526.5 L445.5,528.5 L443.5,530.5 L441.5,531.5 L440.5,533.5 L437.5,535.5 L435.5,537.5 L433.5,539.5 L431.5,541.5 L430.5,543.5 L428.5,545.5 L426.5,547.5 L424.5,549.5 L423.5,552.5 L421.5,554.5 L420.5,556.5 L418.5,558.5 L417.5,560.5 L415.5,562.5 L414.5,564.5 L413.5,566.5 L411.5,568.5 L410.5,571.5 L409.5,573.5 L408.5,575.5 L406.5,578.5 L405.5,580.5 L404.5,582.5 L402.5,585.5 L401.5,587.5 L400.5,590.5 L399.5,592.5 L398.5,594.5 L398.5,597.5 L396.5,599.5 L395.5,601.5 L393.5,603.5 L392.5,606.5 L392.5,608.5 L391.5,611.5 L390.5,613.5 L389.5,615.5 L388.5,618.5 L388.5,620.5 L387.5,623.5 L386.5,625.5 L385.5,628.5 L385.5,631.5 L384.5,633.5 L383.5,636.5 L383.5,640.5 L382.5,643.5 L382.5,646.5 L381.5,648.5 L381.5,651.5 L381.5,654.5 L380.5,656.5 L380.5,659.5 L379.5,661.5 L379.5,664.5 L379.5,667.5 L378.5,669.5 L378.5,672.5 L378.5,674.5 L378.5,677.5 L378.5,679.5 L378.5,682.5 L378.5,684.5 L378.5,687.5 L378.5,690.5 L378.5,693.5 L378.5,697.5 L379.5,700.5 L380.5,702.5 L380.5,705.5 L381.5,708.5 L381.5,711.5 L381.5,714.5 L382.5,716.5 L382.5,719.5 L382.5,722.5 L383.5,725.5 L383.5,727.5 L384.5,730.5 L385.5,732.5 L385.5,735.5 L386.5,738.5 L387.5,740.5 L387.5,743.5 L388.5,746.5 L389.5,748.5 L390.5,750.5 L392.5,753.5 L393.5,755.5 L394.5,757.5 L395.5,760.5 L396.5,762.5 L397.5,765.5 L398.5,768.5 L400.5,770.5 L401.5,773.5 L402.5,775.5 L404.5,777.5 L405.5,780.5 L407.5,782.5 L408.5,785.5 L410.5,788.5 L411.5,790.5 L412.5,792.5 L414.5,794.5 L415.5,796.5 L417.5,798.5 L418.5,800.5 L420.5,802.5 L421.5,804.5 L423.5,807.5 L425.5,809.5 L427.5,811.5 L429.5,813.5 L431.5,815.5 L434.5,817.5 L438.5,818.5 L440.5,821.5 L441.5,824.5 L444.5,826.5 L447.5,827.5 L449.5,829.5 L452.5,831.5 L454.5,833.5 L456.5,835.5 L459.5,836.5 L461.5,838.5 L463.5,839.5 L465.5,840.5 L468.5,842.5 L470.5,843.5 L472.5,844.5 L475.5,846.5 L477.5,847.5 L480.5,847.5 L482.5,848.5 L485.5,849.5 L487.5,850.5 L490.5,851.5 L492.5,852.5 L494.5,852.5 L497.5,853.5 L499.5,854.5 L502.5,854.5 L504.5,855.5 L507.5,856.5 L509.5,857.5 L511.5,857.5 L514.5,857.5 L517.5,857.5 L519.5,857.5 L522.5,857.5 L525.5,857.5 L528.5,858.5 L531.5,860.5 L535.5,860.5 L538.5,860.5 L542.5,860.5 L546.5,860.5 L549.5,858.5 L552.5,857.5 L555.5,857.5 L558.5,857.5 L560.5,857.5 L563.5,857.5 L566.5,857.5 L568.5,857.5 L570.5,856.5 L573.5,855.5 L575.5,854.5 L578.5,854.5 L580.5,853.5 L583.5,852.5 L585.5,852.5 L588.5,851.5 L590.5,850.5 L592.5,849.5 L595.5,848.5 L597.5,847.5 L600.5,847.5 L602.5,846.5 L605.5,844.5 L607.5,843.5 L609.5,842.5 L612.5,840.5 L614.5,839.5 L616.5,838.5 L618.5,836.5 L621.5,835.5 L623.5,833.5 L625.5,831.5 L628.5,829.5 L630.5,827.5 L633.5,826.5 L636.5,824.5 L638.5,821.5 L639.5,818.5 L643.5,817.5 L646.5,815.5 L648.5,813.5 L650.5,811.5 L652.5,809.5 L654.5,807.5 L656.5,804.5 L657.5,802.5 L659.5,800.5 L660.5,798.5 L662.5,796.5 L663.5,794.5 L665.5,792.5 L666.5,790.5 L667.5,788.5 L669.5,785.5 L670.5,782.5 L672.5,780.5 L673.5,777.5 L675.5,775.5 L676.5,773.5 L677.5,770.5 L679.5,768.5 L680.5,765.5 L681.5,762.5 L682.5,760.5 L683.5,757.5 L684.5,755.5 L685.5,753.5 L686.5,750.5 L688.5,748.5 L689.5,746.5 L690.5,743.5 L690.5,740.5 L691.5,738.5 L692.5,735.5 L692.5,732.5 L693.5,730.5 L694.5,727.5 L694.5,725.5 L695.5,722.5 L695.5,719.5 L695.5,716.5 L696.5,714.5 L696.5,711.5 L696.5,708.5 L697.5,705.5 L697.5,702.5 L698.5,700.5 L699.5,697.5 L699.5,693.5 L699.5,690.5 L699.5,687.5 L699.5,684.5 L699.5,682.5 L699.5,679.5 L699.5,677.5 L699.5,674.5 L699.5,672.5 L699.5,669.5 L698.5,667.5 L698.5,664.5 L698.5,661.5 L697.5,659.5 L697.5,656.5 L696.5,654.5 L696.5,651.5 L696.5,648.5 L695.5,646.5 L695.5,643.5 L694.5,640.5 L694.5,636.5 L693.5,633.5 L692.5,631.5 L692.5,628.5 L691.5,625.5 L690.5,623.5 L689.5,620.5 L689.5,618.5 L688.5,615.5 L687.5,613.5 L686.5,611.5 L685.5,608.5 L685.5,606.5 L684.5,603.5 L682.5,601.5 L681.5,599.5 L679.5,597.5 L679.5,594.5 L678.5,592.5 L677.5,590.5 L676.5,587.5 L675.5,585.5 L673.5,582.5 L672.5,580.5 L671.5,578.5 L669.5,575.5 L668.5,573.5 L667.5,571.5 L666.5,568.5 L664.5,566.5 L663.5,564.5 L662.5,562.5 L660.5,560.5 L659.5,558.5 L657.5,556.5 L656.5,554.5 L654.5,552.5 L653.5,549.5 L651.5,547.5 L649.5,545.5 L647.5,543.5 L646.5,541.5 L644.5,539.5 L642.5,537.5 L640.5,535.5 L638.5,533.5 L636.5,531.5 L634.5,530.5 L632.5,528.5 L630.5,526.5 L628.5,525.5 L626.5,523.5 L624.5,521.5 L622.5,520.5 L620.5,518.5 L618.5,516.5 L616.5,514.5 L614.5,512.5 L612.5,511.5 L609.5,509.5 L607.5,508.5 L604.5,506.5 L602.5,505.5 L599.5,504.5 L596.5,502.5 L594.5,501.5 L591.5,500.5 L589.5,498.5 L586.5,497.5 L583.5,496.5 L580.5,494.5 L578.5,494.5 L575.5,493.5 L572.5,492.5 L570.5,491.5 L567.5,490.5 L565.5,489.5 L562.5,488.5 L560.5,488.5 L557.5,488.5 L555.5,487.5 L552.5,486.5 L551.5,485.5 L548.5,485.5 L546.5,485.5 L543.5,485.5 L541.5,485.5 L543.5,485.5 L546.5,485.5 L548.5,485.5 L551.5,485.5 L552.5,483.5 L557.5,483.5 L561.5,480.5 L564.5,479.5 L567.5,479.5 L569.5,477.5 L571.5,475.5 L574.5,474.5 L577.5,473.5 L579.5,471.5 L581.5,469.5 L583.5,467.5 L585.5,465.5 L587.5,464.5 L589.5,462.5 L591.5,461.5 L593.5,459.5 L595.5,457.5 L597.5,455.5 L599.5,454.5 L601.5,451.5 L603.5,448.5 L604.5,446.5 L606.5,443.5 L608.5,440.5 L609.5,437.5 L611.5,435.5 L612.5,433.5 L613.5,430.5 L614.5,427.5 L615.5,424.5 L616.5,422.5 L617.5,419.5 L618.5,417.5 L619.5,414.5 L620.5,412.5 L620.5,410.5 L621.5,406.5 L622.5,403.5 L622.5,400.5 L623.5,397.5 L624.5,394.5 L624.5,391.5 L624.5,388.5 L624.5,386.5 L624.5,383.5 L624.5,380.5 L624.5,377.5 L624.5,375.5 L624.5,372.5 L624.5,369.5 L624.5,367.5 L623.5,364.5 L623.5,361.5 L623.5,359.5 L623.5,356.5 L623.5,353.5 L622.5,350.5 L621.5,346.5 L621.5,344.5 L620.5,341.5 L619.5,339.5 L618.5,337.5 L617.5,334.5 L616.5,332.5 L614.5,330.5 L613.5,327.5 L611.5,325.5 L609.5,322.5 L608.5,320.5 L606.5,318.5 L605.5,315.5 L603.5,313.5 L602.5,311.5 L600.5,308.5 L599.5,306.5 L597.5,305.5 L595.5,303.5 L593.5,301.5 L591.5,299.5 L589.5,297.5 L587.5,296.5 L585.5,294.5 L582.5,293.5 L580.5,292.5 L577.5,291.5 L575.5,289.5 L573.5,288.5 L570.5,287.5 L568.5,286.5 L565.5,285.5 L563.5,284.5 L560.5,283.5 L558.5,282.5 L555.5,282.5 L553.5,281.5 L550.5,281.5 L548.5,280.5 L545.5,280.5 L542.5,280.5 Z" fill="none" stroke="#0000ff" stroke-width="2.4" stroke-linejoin="round"/>
<line x1="526.4" y1="486" x2="536.8" y2="486" stroke="#0000ff" stroke-width="3.6"/>
<line x1="541.2" y1="486" x2="551.6" y2="486" stroke="#0000ff" stroke-width="3.6"/>
</g>
<rect x="1.2" y="2" width="1.6" height="974" fill="#8c8c8c"/>
<rect x="2" y="2" width="1076" height="1" fill="#888"/>
<rect x="1077" y="2" width="1" height="974" fill="#999"/>
<rect x="1078" y="2" width="1" height="974" fill="#b5b5b5"/>
<line x1="2" y1="975.5" x2="1077.5" y2="975.5" stroke="#666" stroke-width="1"/>
<line x1="0.5" y1="976" x2="0.5" y2="1080" stroke="#bbb" stroke-width="1"/>
<line x1="1079.5" y1="0" x2="1079.5" y2="976" stroke="#000" stroke-width="1"/>
<line x1="1079.5" y1="976" x2="1079.5" y2="1080" stroke="#888" stroke-width="1"/>
<line x1="12" y1="1034.7" x2="64.5" y2="1034.7" stroke="#ff0000" stroke-width="2.2" stroke-linecap="round"/>
<line x1="12" y1="1058.3" x2="64.5" y2="1058.3" stroke="#0000ff" stroke-width="2.2" stroke-linecap="round"/>
</svg>
<svg class="tl" width="1080" height="1080" viewBox="0 0 1080 1080">
<g fill="#111" font-size="17.5" text-anchor="middle">
<text x="80.7" y="36">135°</text>
<text x="274.8" y="36">150°</text>
<text x="417.2" y="36">165°</text>
<text x="540.7" y="36">180°</text>
<text x="663.1" y="36">165°</text>
<text x="805.8" y="36">150°</text>
<text x="999.8" y="36">135°</text>
<text x="80.2" y="954.9">45°</text>
<text x="274.3" y="954.9">30°</text>
<text x="417.2" y="954.9">15°</text>
<text x="539.7" y="954.9">0°</text>
<text x="662.5" y="954.9">15°</text>
<text x="805.3" y="954.9">30°</text>
<text x="998.9" y="954.9">45°</text>
<text x="25" y="197.9">120°</text>
<text x="1055" y="197.9">120°</text>
<text x="25" y="357.2">105°</text>
<text x="1055" y="357.2">105°</text>
<text x="25" y="495">90°</text>
<text x="1055" y="495">90°</text>
<text x="25" y="633.6">75°</text>
<text x="1055" y="633.6">75°</text>
<text x="25" y="792.7">60°</text>
<text x="1055" y="792.7">60°</text>
<text x="539.5" y="67">700</text>
<text x="539.5" y="128.5">600</text>
<text x="539.5" y="189">500</text>
<text x="539.5" y="252.2">400</text>
<text x="539.5" y="312.2">300</text>
<text x="539.5" y="373.7">200</text>
</g>
<g fill="#111" font-size="21.8">
<text x="12" y="1002">cd</text>
<text x="1068.3" y="1002" text-anchor="end">2990 lm</text>
</g>
<g fill="#111" font-size="17.5">
<text x="76.5" y="1042">C0/C180</text>
<text x="76.3" y="1064.8">C90/C270</text>
</g>
</svg>
</body></html>
